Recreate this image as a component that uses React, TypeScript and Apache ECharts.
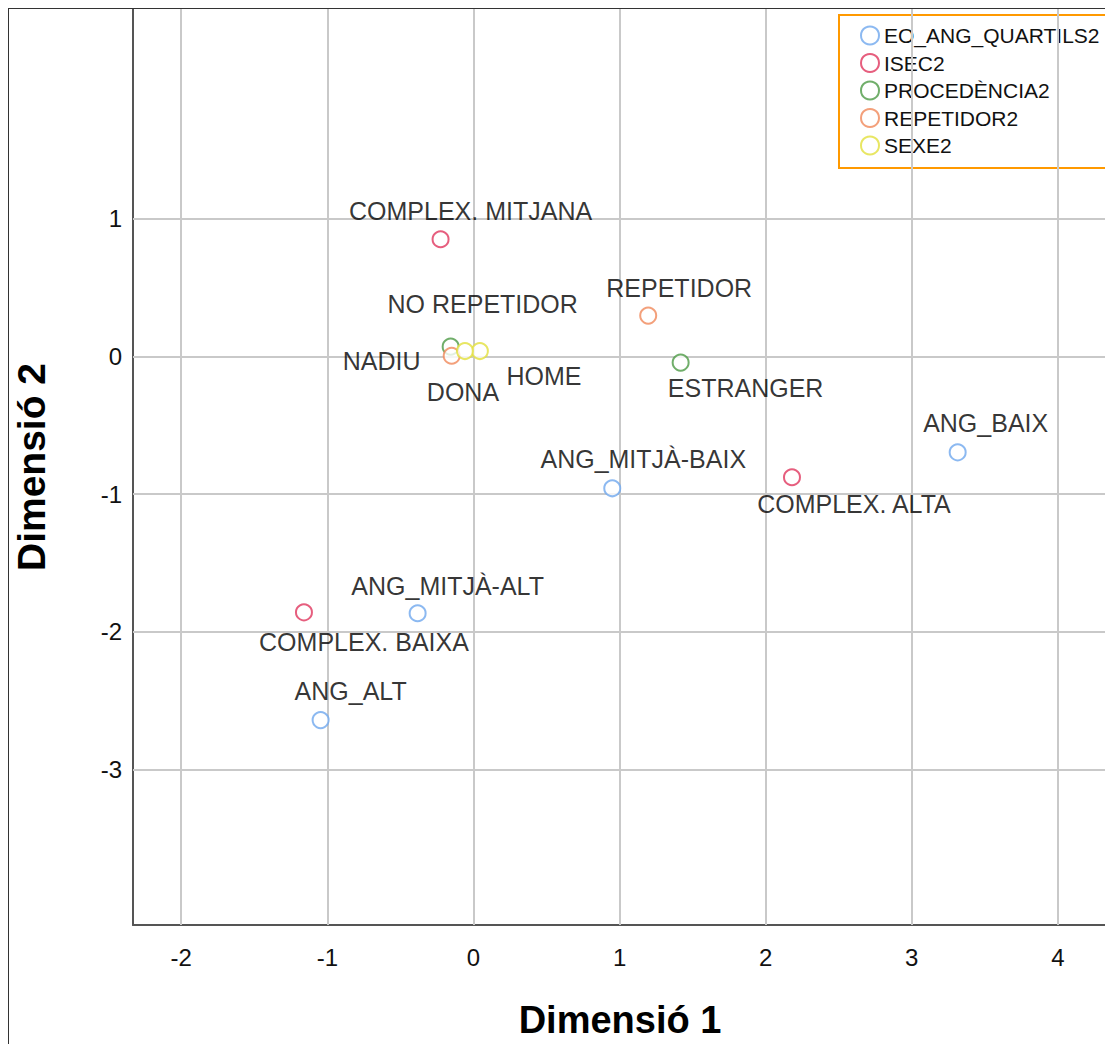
import React, { useEffect, useRef } from "react";
import * as echarts from "echarts";

// ---- Data ----
const seriesNames = ["EO_ANG_QUARTILS2", "ISEC2", "PROCEDÈNCIA2", "REPETIDOR2", "SEXE2"];
const seriesColors = ["#6fa8ee", "#e0365e", "#4c9a45", "#f0885a", "#e2e03c"];

const angCategories = ["ANG_BAIX", "ANG_MITJÀ-BAIX", "ANG_MITJÀ-ALT", "ANG_ALT"];
const angDim1 = [3.314, 0.95, -0.382, -1.046];
const angDim2 = [-0.697, -0.958, -1.865, -2.64];

const isecCategories = ["COMPLEX. BAIXA", "COMPLEX. MITJANA", "COMPLEX. ALTA"];
const isecDim1 = [-1.16, -0.225, 2.18];
const isecDim2 = [-1.858, 0.849, -0.878];

const procCategories = ["NADIU", "ESTRANGER"];
const procDim1 = [-0.156, 1.418];
const procDim2 = [0.07, -0.046];

const repCategories = ["NO REPETIDOR", "REPETIDOR"];
const repDim1 = [-0.149, 1.196];
const repDim2 = [0.004, 0.295];

const sexCategories = ["HOME", "DONA"];
const sexDim1 = [0.044, -0.058];
const sexDim2 = [0.038, 0.038];

const xTicks = [-2, -1, 0, 1, 2, 3, 4];
const yTicks = [-3, -2, -1, 0, 1];

// ---- Label placement (layout, px offsets from the point) ----
const labelOffsets: Record<string, [number, number]> = {
  "ANG_BAIX": [28, -29],
  "ANG_MITJÀ-BAIX": [31, -29],
  "ANG_MITJÀ-ALT": [30, -27],
  "ANG_ALT": [30, -29],
  "COMPLEX. BAIXA": [60, 30],
  "COMPLEX. MITJANA": [30, -28],
  "COMPLEX. ALTA": [62, 27],
  "NADIU": [-69, 14],
  "ESTRANGER": [65, 25],
  "NO REPETIDOR": [31, -52],
  "REPETIDOR": [31, -28],
  "HOME": [64, 25],
  "DONA": [-2, 41],
};

const FONT = "'Liberation Sans', Arial, Helvetica, sans-serif";

function buildSeries(name: string, color: string, cats: string[], d1: number[], d2: number[]) {
  return {
    name,
    type: "scatter",
    symbol: "emptyCircle",
    symbolSize: 16,
    z: 5,
    itemStyle: { color, borderColor: color, borderWidth: 2.5 },
    label: {
      show: true,
      position: "inside",
      formatter: "{b}",
      color: "#000",
      fontSize: 25,
      fontFamily: FONT,
      textBorderWidth: 0,
    },
    data: cats.map((c, i) => ({
      name: c,
      value: [d1[i], d2[i]],
      label: { offset: labelOffsets[c] || [0, -28] },
    })),
  };
}

export default function App() {
  const ref = useRef<HTMLDivElement>(null);

  useEffect(() => {
    document.body.style.overflow = "hidden";
    document.documentElement.style.overflow = "hidden";
    if (!ref.current) return;
    const chart = echarts.init(ref.current, undefined, { renderer: "svg" });
    const gridColor = "#c9c9c9";
    const option = {
      animation: false,
      backgroundColor: "#ffffff",
      grid: {
        left: 124,
        top: 0,
        width: 974,
        height: 916,
        containLabel: false,
        outerBoundsMode: "none",
      },
      legend: {
        data: seriesNames,
        orient: "vertical",
        left: 830,
        top: 6,
        icon: "emptyCircle",
        itemWidth: 18,
        itemHeight: 18,
        itemGap: 6.5,
        padding: [10, 30, 12, 21],
        backgroundColor: "#ffffff",
        borderColor: "#ff9900",
        borderWidth: 2,
        borderRadius: 0,
        itemStyle: { borderWidth: 2 },
        textStyle: { color: "#111", fontSize: 21, fontFamily: FONT },
      },
      xAxis: {
        type: "value",
        min: -2.33,
        max: 4.336,
        name: "Dimensió 1",
        nameLocation: "middle",
        nameGap: 80,
        nameTextStyle: {
          color: "#000",
          fontSize: 38,
          lineHeight: 30,
          fontWeight: "bold",
          fontFamily: FONT,
        },
        axisLine: { show: true, onZero: false, lineStyle: { color: "#555", width: 2 } },
        axisTick: { show: false },
        splitLine: { show: false },
        axisLabel: {
          customValues: xTicks,
          color: "#111",
          fontSize: 24,
          fontFamily: FONT,
          margin: 20,
        },
      },
      yAxis: {
        type: "value",
        min: -4.127,
        max: 2.52,
        name: "Dimensió 2",
        nameLocation: "middle",
        nameRotate: 90,
        nameGap: 82,
        nameTextStyle: { color: "#000", fontSize: 39, fontWeight: "bold", fontFamily: FONT },
        axisLine: { show: true, onZero: false, lineStyle: { color: "#555", width: 2 } },
        axisTick: { show: false },
        splitLine: { show: false },
        axisLabel: {
          customValues: yTicks,
          color: "#111",
          fontSize: 24,
          fontFamily: FONT,
          margin: 11,
        },
      },
      series: [
        {
          name: "__grid__",
          type: "line",
          data: [],
          silent: true,
          z: 1,
          markLine: {
            silent: true,
            symbol: ["none", "none"],
            label: { show: false },
            lineStyle: { color: gridColor, width: 2, type: "solid" },
            data: [
              ...xTicks.map((v) => ({ xAxis: v })),
              ...yTicks.map((v) => ({ yAxis: v })),
            ],
          },
        },
        buildSeries(seriesNames[0], seriesColors[0], angCategories, angDim1, angDim2),
        buildSeries(seriesNames[1], seriesColors[1], isecCategories, isecDim1, isecDim2),
        buildSeries(seriesNames[2], seriesColors[2], procCategories, procDim1, procDim2),
        buildSeries(seriesNames[3], seriesColors[3], repCategories, repDim1, repDim2),
        buildSeries(seriesNames[4], seriesColors[4], sexCategories, sexDim1, sexDim2),
      ],
    };
    chart.setOption(option as any);
    return () => chart.dispose();
  }, []);

  return (
    <div
      style={{
        borderTop: "1px solid #333",
        borderLeft: "1px solid #333",
        width: 1104,
        height: 1035,
        background: "#fff",
        overflow: "hidden",
      }}
    >
      <div ref={ref} style={{ width: 1104, height: 1035 }} />
    </div>
  );
}
